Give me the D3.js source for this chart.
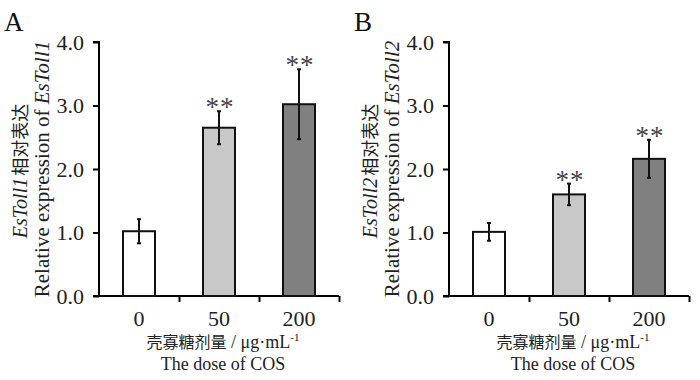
<!DOCTYPE html>
<html><head><meta charset="utf-8">
<script src="https://cdn.jsdelivr.net/npm/d3@7"></script>
<style>body{margin:0;background:#fff}svg{display:block}text{font-family:"Liberation Serif","Times New Roman",serif}</style>
</head><body>
<svg id="c" width="700" height="380"></svg>
<script>
const categories = ["0", "50", "200"];
const valuesA = [1.02, 2.65, 3.02];
const errorsA = [0.19, 0.26, 0.55];
const valuesB = [1.01, 1.60, 2.16];
const errorsB = [0.14, 0.17, 0.30];
const sigA = ["", "**", "**"];
const sigB = ["", "**", "**"];
const yTicks = [0, 1, 2, 3, 4];
const barColors = ["#ffffff", "#c8c8c8", "#808080"];
const genes = ["EsToll1", "EsToll2"];
const panelLabels = ["A", "B"];
const xLabelCn = "壳寡糖剂量";
const xLabelUnit = " / μg·mL";
const xLabelEn = "The dose of COS";

const svg = d3.select("#c");
const FONT = "Liberation Serif";
const CJK = "Noto Sans CJK SC";

function panel(ox, values, errors, sig, gene, letter) {
  const g = svg.append("g").attr("transform", `translate(${ox},0)`);
  const x0 = 99, x1 = 339, yTop = 42, yBot = 296;
  const x = d3.scaleBand().domain(categories).range([x0, x1]).paddingInner(0.6).paddingOuter(0.3);
  const y = d3.scaleLinear().domain([0, 4]).range([yBot, yTop]);

  // y axis
  const ya = g.append("g").attr("transform", `translate(${x0},0)`)
    .call(d3.axisLeft(y).tickValues(yTicks).tickFormat(d3.format(".1f")).tickSize(6).tickPadding(9));
  ya.attr("font-family", null).attr("font-size", null);
  ya.select(".domain").attr("stroke-width", 2).attr("d", `M-6,${yTop}H0V${yBot}`);
  ya.selectAll(".tick line").attr("stroke-width", 2);
  ya.selectAll("text").style("font-family", FONT).style("font-size", "22px").attr("fill", "#222");

  // x axis
  const xs = d3.scaleLinear().domain([0, 3]).range([x0, x1]);
  const xa = g.append("g").attr("transform", `translate(0,${yBot})`)
    .call(d3.axisBottom(xs).tickValues([1, 2, 3]).tickFormat("").tickSize(6));
  xa.select(".domain").attr("stroke-width", 2).attr("d", `M${x0 - 6},0H${x1}`);
  xa.selectAll(".tick line").attr("stroke-width", 2);

  // category labels
  g.selectAll(".cat").data(categories).join("text")
    .attr("x", d => x(d) + x.bandwidth() / 2).attr("y", 326)
    .attr("text-anchor", "middle").style("font-family", FONT).style("font-size", "22px").attr("fill", "#222")
    .text(d => d);

  // bars
  g.selectAll(".bar").data(values).join("rect")
    .attr("x", (d, i) => x(categories[i])).attr("width", x.bandwidth())
    .attr("y", d => y(d)).attr("height", d => yBot - y(d))
    .attr("fill", (d, i) => barColors[i]).attr("stroke", "#111").attr("stroke-width", 2);

  // error bars
  values.forEach((v, i) => {
    const cx = x(categories[i]) + x.bandwidth() / 2;
    const t = y(v + errors[i]), b = y(v - errors[i]);
    g.append("line").attr("x1", cx).attr("x2", cx).attr("y1", t).attr("y2", b).attr("stroke", "#111").attr("stroke-width", 2);
    [t, b].forEach(yy => g.append("line").attr("x1", cx - 2).attr("x2", cx + 2).attr("y1", yy).attr("y2", yy).attr("stroke", "#111").attr("stroke-width", 2));
    if (sig[i]) {
      g.append("text").attr("x", cx + 1).attr("y", t + 5).attr("text-anchor", "middle")
        .style("font-family", FONT).style("font-size", "27px").attr("letter-spacing", 1).attr("fill", "#444").text(sig[i]);
    }
  });

  // y labels
  const cy = (yTop + yBot) / 2;
  const l1 = g.append("text").attr("transform", `translate(27,${cy + 2}) rotate(-90)`).attr("text-anchor", "middle")
    .style("font-family", FONT).style("font-size", "20px").attr("fill", "#222");
  l1.append("tspan").attr("font-style", "italic").text(gene);
  l1.append("tspan").style("font-family", CJK).style("font-size", "18px").attr("dx", 2).text("相对表达");
  const l2 = g.append("text").attr("transform", `translate(49,${cy}) rotate(-90)`).attr("text-anchor", "middle")
    .style("font-family", FONT).style("font-size", "21px").attr("fill", "#222");
  l2.append("tspan").text("Relative expression of ");
  l2.append("tspan").attr("font-style", "italic").text(gene);

  // x labels
  const xc = (x0 + x1) / 2 + 4;
  const t1 = g.append("text").attr("x", xc).attr("y", 348).attr("text-anchor", "middle")
    .style("font-family", FONT).style("font-size", "18px").attr("fill", "#222");
  t1.append("tspan").style("font-family", CJK).style("font-size", "16px").text(xLabelCn);
  t1.append("tspan").text(xLabelUnit);
  t1.append("tspan").style("font-size", "11px").attr("dy", -7).text("-1");
  g.append("text").attr("x", xc).attr("y", 370).attr("text-anchor", "middle")
    .style("font-family", FONT).style("font-size", "18px").attr("fill", "#222").text(xLabelEn);

  // panel letter
  g.append("text").attr("x", 4).attr("y", 31).style("font-family", FONT).style("font-size", "27px").attr("fill", "#111").text(letter);
}

panel(0, valuesA, errorsA, sigA, genes[0], panelLabels[0]);
panel(350, valuesB, errorsB, sigB, genes[1], panelLabels[1]);
</script>
</body></html>
